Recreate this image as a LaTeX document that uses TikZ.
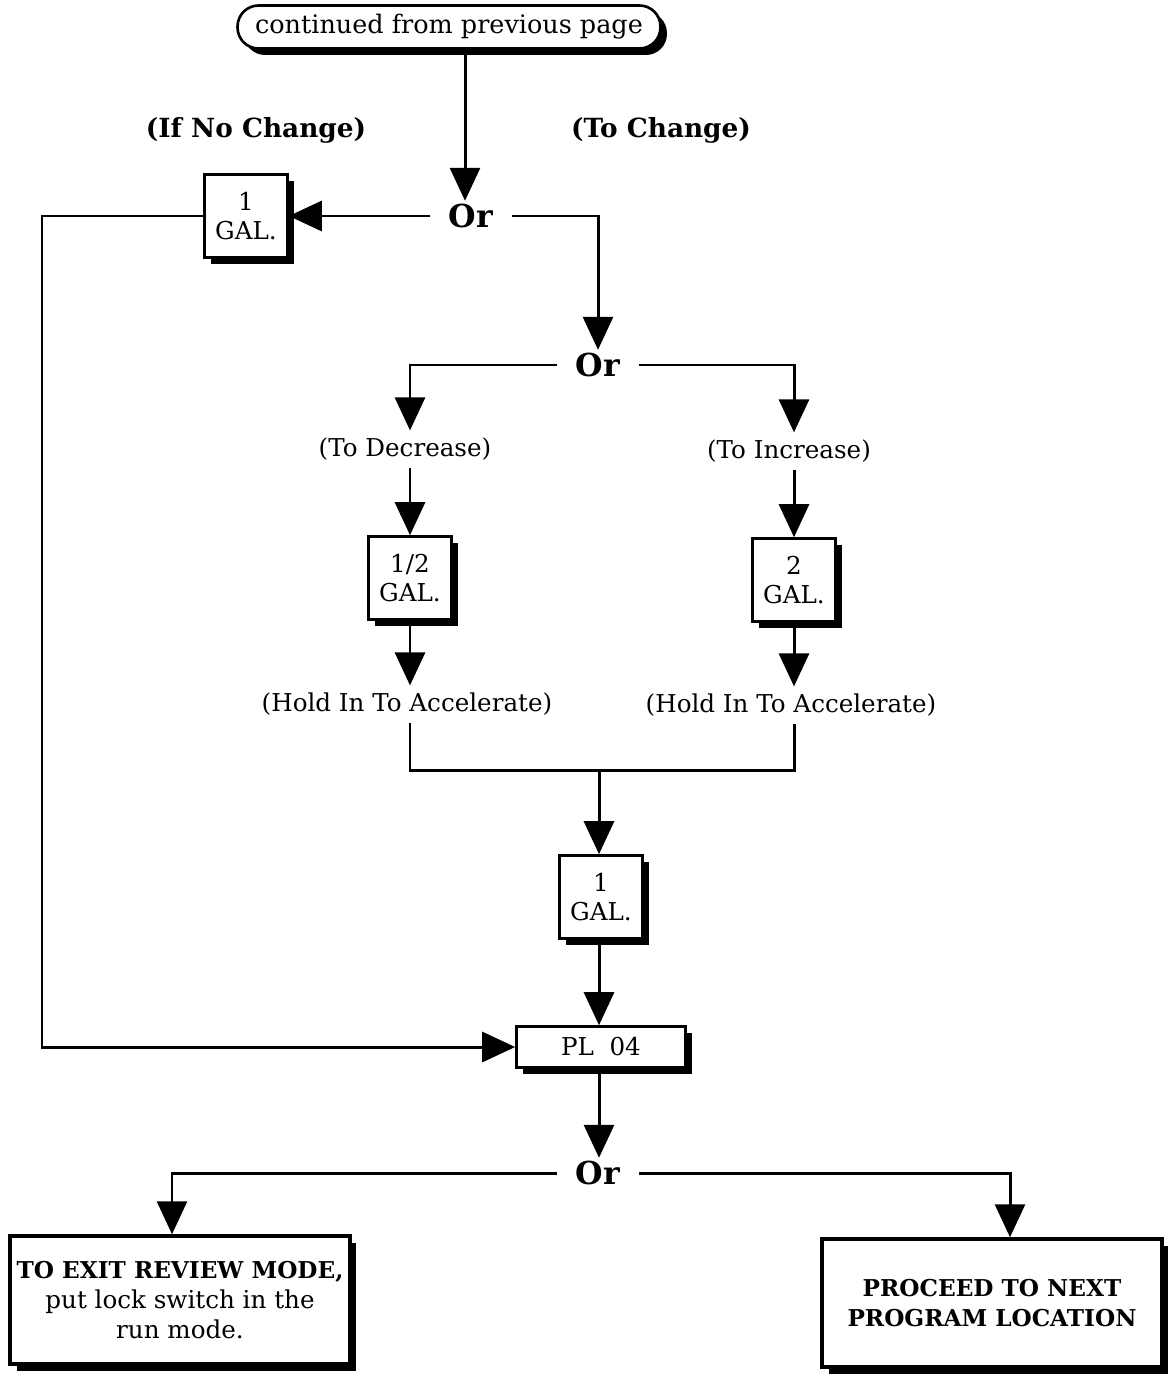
\documentclass[tikz,border=0pt]{standalone}
\usepackage{fontspec}
\setmainfont{DejaVu Serif}
\usetikzlibrary{arrows.meta,shadows}

\begin{document}
\begin{tikzpicture}[x=0.02cm,y=-0.02cm,line width=1.7pt,
  every node/.style={font=\fontsize{14}{17}\selectfont,align=center},
  arr/.style={-{Triangle[width=0.6cm,length=0.66cm]}},
  box/.style={draw,fill=white,line width=1.5pt,
    drop shadow={shadow xshift=0.13cm,shadow yshift=-0.13cm,opacity=1,fill=black}},
  galbox/.style={box,minimum width=1.66cm,minimum height=1.66cm,inner sep=0pt},
  orlbl/.style={font=\fontsize{18}{20}\selectfont\bfseries,inner xsep=0.34cm,inner ysep=1pt},
  headlbl/.style={font=\fontsize{15}{18}\selectfont\bfseries},
  endbox/.style={box,minimum width=6.8cm,minimum height=2.56cm,line width=2pt},
  endhead/.style={font=\fontsize{13.2}{17}\selectfont\bfseries}]
\useasboundingbox (0,0) rectangle (1173,1376);
% top of page
\node[box,rounded corners=0.42cm,minimum width=8.46cm,minimum height=0.86cm,font=\fontsize{14.5}{17}\selectfont] (cont) at (449,27) {continued from previous page};
\node[headlbl] (nochg) at (256,130) {(If No Change)};
\node[headlbl] (chg) at (661,130) {(To Change)};
\node[orlbl] (or1) at (471,216) {Or};
\node[galbox] (gal1) at (246,216) {1\\GAL.};
\coordinate (loop) at (42,216);
% change branch
\node[orlbl] (or2) at (598,365) {Or};
\node (dec) at (405,449) {(To Decrease)};
\node (inc) at (789,451) {(To Increase)};
\node[galbox] (gal2) at (410,578) {1/2\\GAL.};
\node[galbox] (gal3) at (794,580) {2\\GAL.};
\node (hold1) at (407,704) {(Hold In To Accelerate)};
\node (hold2) at (791,705) {(Hold In To Accelerate)};
\coordinate (mrg) at (599,770);
\node[galbox] (gal4) at (601,897) {1\\GAL.};
\node[box,minimum width=3.38cm,minimum height=0.82cm] (pl) at (601,1047) {PL~~04};
% exits
\node[orlbl] (or3) at (598,1173) {Or};
\node[endbox] (exit) at (180,1300) {{\fontsize{13.2}{17}\selectfont\bfseries TO EXIT REVIEW MODE,}\\put lock switch in the\\run mode.};
\node[endbox,endhead] (next) at (992,1303) {PROCEED TO NEXT\\PROGRAM LOCATION};

\draw[arr] ([xshift=-0.12cm]or1.north |- cont.south) -- ([xshift=-0.12cm]or1.north);
\draw[arr] (or1.west) -- (or1.west -| gal1.east);
\draw[arr] (gal1.west) -- (loop) |- (pl.west);
\draw[arr] (or1.east) -| (or2.north);
\draw[arr] (or2.west) -| (gal2 |- dec.north);
\draw[arr] (or2.east) -| (gal3 |- inc.north);
\draw[arr] (gal2 |- dec.south) -- (gal2.north);
\draw[arr] (gal3 |- inc.south) -- (gal3.north);
\draw[arr] (gal2.south) -- (gal2 |- hold1.north);
\draw[arr] (gal3.south) -- (gal3 |- hold2.north);
\draw (gal2 |- hold1.south) |- (mrg) -| (gal3 |- hold2.south);
\draw[arr] (mrg) -- (mrg |- gal4.north);
\draw[arr] (mrg |- gal4.south) -- (mrg |- pl.north);
\draw[arr] (mrg |- pl.south) -- (mrg |- or3.north);
\draw[arr] (or3.west) -| ([xshift=-0.16cm]exit.north);
\draw[arr] (or3.east) -| ([xshift=0.36cm]next.north);
\end{tikzpicture}
\end{document}
